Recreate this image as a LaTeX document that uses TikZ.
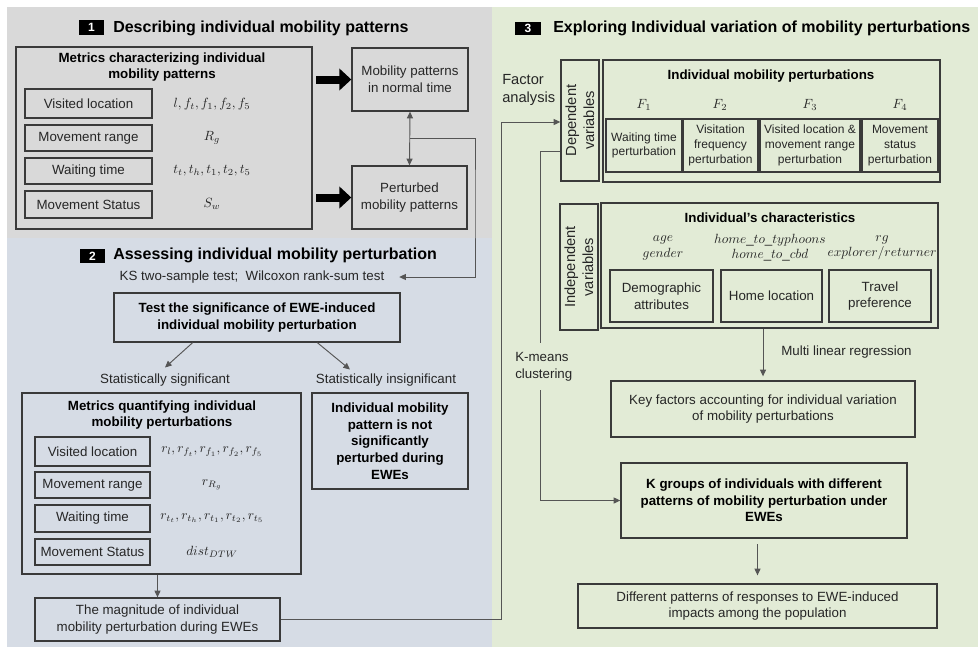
\documentclass[tikz,border=0pt]{standalone}
\usepackage{fontspec}
\setmainfont{Liberation Sans}
\usetikzlibrary{arrows.meta,calc}
\definecolor{pgray}{HTML}{D9D9D9}
\definecolor{pblue}{HTML}{D6DCE5}
\definecolor{pgreen}{HTML}{E2EBD6}
\definecolor{edgec}{HTML}{3A3A3A}
\definecolor{lnc}{HTML}{555555}
\definecolor{txtc}{HTML}{262626}
% \bx{name}{x1}{y1}{x2}{y2}{style}{text}
\newcommand\bx[7]{\node[#6, minimum width={(#4-#2)*0.75pt}, minimum height={(#5-#3)*0.75pt}] (#1) at ({(#2+#4)/2},{(#3+#5)/2}) {#7};}
\begin{document}
\begin{tikzpicture}[x=0.75pt,y=-0.75pt,
  box/.style={draw=edgec, line width=1pt, inner sep=0pt, align=center, text=txtc, font=\fontsize{10}{12.5}\selectfont},
  bbox/.style={box, text=black, font=\fontsize{10}{12.5}\selectfont\bfseries},
  sbox/.style={box, font=\fontsize{9}{11}\selectfont},
  lab/.style={inner sep=0pt, align=center, text=txtc, font=\fontsize{10}{12.5}\selectfont},
  blab/.style={lab, text=black, font=\fontsize{10}{12.5}\selectfont\bfseries},
  mlab/.style={inner sep=0pt, align=center, text=txtc, font=\fontsize{10}{11.5}\selectfont},
  ttl/.style={anchor=west, inner sep=0pt, text=black, font=\fontsize{12}{14}\selectfont\bfseries},
  num/.style={fill=black, text=white, inner sep=0pt, font=\fontsize{9}{10}\selectfont\bfseries},
  conn/.style={draw=lnc, line width=0.7pt},
  arr/.style={conn, -{Triangle[length=5pt,width=4.5pt]}},
  darr/.style={conn, {Triangle[length=5pt,width=4.5pt]}-{Triangle[length=5pt,width=4.5pt]}},
  bigarr/.style={draw=black, line width=6pt, -{Triangle[length=9pt,width=16pt]}},
]
% panels
\fill[white] (0,0) rectangle (978,647);
\fill[pgray] (7,7) rectangle (492,238);
\fill[pblue] (7,238) rectangle (492,647);
\fill[pgreen] (492,7) rectangle (978,647);

% ---------- Panel 1 ----------
\bx{n1}{79}{20}{104}{35}{num}{1}
\node[ttl] (t1) at (113,28) {Describing individual mobility patterns};
\bx{metrics}{16}{47}{312}{229}{box}{}
\node[blab] (metricsT) at (162,67) {Metrics characterizing individual\\mobility patterns};
\bx{m1}{25}{89}{152}{118}{box}{Visited location}
\bx{m2}{25}{125}{152}{151}{box}{Movement range}
\bx{m3}{25}{158}{152}{184}{box}{Waiting time}
\bx{m4}{25}{191}{152}{218}{box}{Movement Status}
\node[mlab] (v1) at (212,104) {$l, f_t, f_1, f_2, f_5$};
\node[mlab] (v2) at (212,138) {$R_g$};
\node[mlab] (v3) at (212,171) {$t_t, t_h, t_1, t_2, t_5$};
\node[mlab] (v4) at (212,204) {$S_w$};
\bx{normal}{352}{48}{468}{111}{box}{Mobility patterns\\in normal time}
\bx{perturbed}{352}{166}{467}{229}{box}{Perturbed\\mobility patterns}
\draw[bigarr] ([xshift=2.5pt]metrics.east |- normal.west) -- (normal.west);
\draw[bigarr] ([xshift=2.5pt]metrics.east |- perturbed.west) -- (perturbed.west);
\draw[darr] (normal.south) -- (perturbed.north);
\coordinate (mid) at ($(normal.south)!0.5!(perturbed.north)$);
\coordinate (turnA) at (475,200);

% ---------- Panel 2 ----------
\bx{n2}{80}{249}{105}{263}{num}{2}
\node[ttl] (t2) at (113,255) {Assessing individual mobility perturbation};
\node[lab] (ks) at (252,277) {KS two-sample test;~~Wilcoxon rank-sum test};
\draw[arr, shorten >=11pt] (mid) -| (turnA) |- (ks.east);
\bx{test}{114}{293}{400}{342}{bbox}{Test the significance of EWE-induced\\individual mobility perturbation}
\node[lab] (sig) at (165,380) {Statistically significant};
\node[lab] (insig) at (386,380) {Statistically insignificant};
\draw[arr] ($(test.south west)!0.276!(test.south east)$) -- ($(sig.north)+(0,-6)$);
\draw[arr] ($(test.south west)!0.71!(test.south east)$) -- ($(insig.north)+(-36,-4)$);
\bx{metq}{22}{393}{301}{574}{box}{}
\node[blab] (metqT) at (162,415) {Metrics quantifying individual\\mobility perturbations};
\bx{q1}{35}{437}{150}{466}{box}{Visited location}
\bx{q2}{35}{472}{150}{498}{box}{Movement range}
\bx{q3}{35}{505}{150}{532}{box}{Waiting time}
\bx{q4}{35}{539}{150}{565}{box}{Movement Status}
\node[mlab] (r1) at (212,452) {$r_l, r_{f_t}, r_{f_1}, r_{f_2}, r_{f_5}$};
\node[mlab] (r2) at (212,485) {$r_{R_g}$};
\node[mlab] (r3) at (212,518) {$r_{t_t}, r_{t_h}, r_{t_1}, r_{t_2}, r_{t_5}$};
\node[mlab] (r4) at (212,552) {$dist_{DTW}$};
\bx{notsig}{312}{393}{468}{489}{bbox}{Individual mobility\\pattern is not\\significantly\\perturbed during\\EWEs}
\bx{mag}{35}{598}{280}{641}{box}{The magnitude of individual\\mobility perturbation during EWEs}
\draw[arr] (mag.north |- metq.south) -- (mag.north);

% ---------- Panel 3 ----------
\bx{n3}{515}{22}{541}{35}{num}{3}
\node[ttl] (t3) at (553,28) {Exploring Individual variation of mobility perturbations};
\node[lab, anchor=west, align=left, font=\fontsize{11}{13.5}\selectfont] (fa) at (502,90) {Factor\\analysis};
\bx{dep}{561}{60}{599}{181}{box}{}
\node[lab, rotate=90, font=\fontsize{11}{13.5}\selectfont] at (dep.center) {Dependent\\variables};
\bx{imp}{603}{60}{940}{182}{box}{}
\node[blab] (impT) at (771,76) {Individual mobility perturbations};
\node[mlab] (F1) at (644,105) {$F_1$};
\node[mlab] (F2) at (720,105) {$F_2$};
\node[mlab] (F3) at (810,105) {$F_3$};
\node[mlab] (F4) at (900,105) {$F_4$};
\bx{f1}{606}{119}{682}{172}{sbox}{Waiting time\\perturbation}
\bx{f2}{683}{119}{758}{172}{sbox}{Visitation\\frequency\\perturbation}
\bx{f3}{760}{119}{860}{172}{sbox}{Visited location \&\\movement range\\perturbation}
\bx{f4}{862}{119}{938}{172}{sbox}{Movement\\status\\perturbation}
\bx{indep}{560}{204}{598}{330}{box}{}
\node[lab, rotate=90, font=\fontsize{11}{13.5}\selectfont] at (indep.center) {Independent\\variables};
\bx{chars}{601}{203}{938}{328}{box}{}
\node[blab] (charsT) at (770,218) {Individual's characteristics};
\node[mlab] (a1) at (663,248) {$age$\\$gender$};
\node[mlab] (a2) at (770,248) {$home\_to\_typhoons$\\$home\_to\_cbd$};
\node[mlab] (a3) at (882,248) {$rg$\\$explorer/returner$};
\bx{c1}{610}{270}{713}{322}{box}{Demographic\\attributes}
\bx{c2}{721}{270}{822}{322}{box}{Home location}
\bx{c3}{829}{270}{931}{322}{box}{Travel\\preference}
\bx{keyf}{611}{381}{915}{437}{box}{Key factors accounting for individual variation\\of mobility perturbations}
\draw[arr, shorten >=3pt] (keyf.north |- chars.south) -- (keyf.north);
\node[lab, anchor=west] (mlr) at (781,352) {Multi linear regression};
\node[lab, anchor=west, align=left] (km) at (515,367) {K-means\\clustering};
\bx{kgroups}{621}{463}{907}{538}{bbox}{K groups of individuals with different\\patterns of mobility perturbation under\\EWEs}
\bx{final}{578}{584}{937}{628}{box}{Different patterns of responses to EWE-induced\\impacts among the population}
\draw[arr, shorten <=4pt, shorten >=6pt] (final.north |- kgroups.south) -- (final.north);

% long connectors
\coordinate (faT) at (501,122);
\draw[arr] (mag.east) -| (faT) -- (dep.west |- faT);
\coordinate (kmA) at (540,343);
\coordinate (kmB) at (540,390);
\draw[conn] ($(dep.west)+(0,31)$) -| (kmA);
\draw[arr] (kmB) |- (kgroups.west);
\end{tikzpicture}
\end{document}
